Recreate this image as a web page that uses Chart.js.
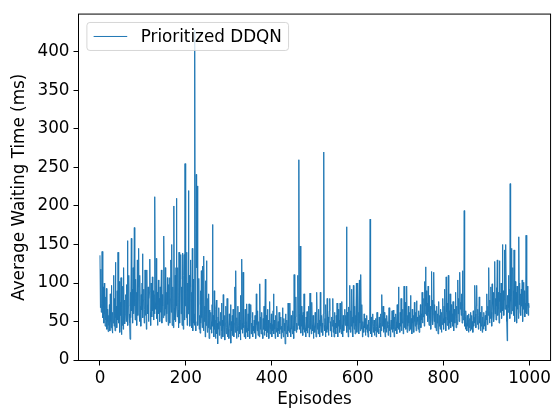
<!DOCTYPE html>
<html lang="en">
<head>
    <meta charset="UTF-8">
    <title>Average Waiting Time</title>
    <script src="https://cdn.jsdelivr.net/npm/chart.js"></script>
    <style>
        html, body { margin: 0; padding: 0; background: #fff; }
        canvas { display: block; }
    </style>
</head>
<body>
    <canvas id="waitChart" width="554" height="414"></canvas>

    <script>
        // average waiting time (ms) per episode, episodes 0..999
        const waitTimes = [
            136, 68, 118, 62, 74, 141, 88, 55, 95, 48, 100, 60, 44, 82, 52, 93, 40, 66, 50, 37,
            58, 45, 72, 38, 86, 50, 42, 97, 40, 35, 62, 48, 110, 44, 80, 38, 127, 55, 70, 42,
            90, 52, 140, 64, 48, 102, 36, 75, 58, 107, 33, 68, 45, 96, 40, 120, 52, 78, 47, 60,
            85, 50, 98, 62, 155, 45, 70, 110, 60, 48, 27, 88, 55, 158, 64, 92, 48, 120, 60, 75,
            172, 70, 52, 105, 60, 88, 45, 130, 58, 95, 145, 62, 50, 110, 70, 44, 85, 65, 100, 138,
            55, 78, 92, 48, 66, 117, 58, 84, 40, 117, 72, 60, 95, 50, 80, 88, 131, 62, 45, 100,
            70, 56, 108, 64, 90, 52, 85, 60, 212, 75, 66, 132, 54, 88, 45, 72, 104, 60, 80, 50,
            95, 62, 78, 117, 48, 85, 70, 55, 92, 161, 58, 74, 120, 66, 50, 88, 60, 107, 72, 45,
            98, 55, 107, 48, 80, 130, 62, 150, 45, 60, 95, 42, 200, 68, 52, 110, 50, 120, 210, 70,
            56, 120, 65, 42, 140, 55, 48, 105, 137, 60, 95, 45, 139, 70, 40, 110, 137, 52, 255, 70,
            120, 55, 140, 45, 100, 60, 220, 65, 110, 44, 95, 130, 50, 88, 42, 145, 38, 105, 48, 60,
            45, 428, 50, 38, 241, 120, 226, 60, 45, 72, 106, 40, 58, 35, 90, 48, 116, 55, 42, 122,
            60, 38, 135, 50, 70, 30, 103, 45, 129, 55, 36, 80, 42, 86, 28, 65, 48, 40, 62, 50,
            35, 72, 176, 44, 58, 30, 90, 40, 52, 28, 66, 78, 34, 48, 21, 56, 40, 68, 32, 50,
            45, 62, 28, 74, 38, 52, 30, 85, 44, 36, 58, 26, 48, 70, 34, 42, 80, 30, 55, 40,
            28, 60, 45, 35, 72, 22, 50, 38, 58, 32, 66, 40, 30, 48, 95, 36, 116, 44, 28, 55,
            38, 70, 30, 45, 62, 34, 52, 26, 84, 40, 131, 48, 35, 114, 42, 58, 30, 46, 66, 28,
            50, 36, 73, 42, 30, 60, 38, 73, 45, 28, 55, 72, 34, 48, 40, 62, 30, 44, 38, 52,
            35, 58, 42, 28, 86, 46, 38, 64, 32, 50, 44, 30, 99, 40, 56, 34, 48, 62, 36, 28,
            54, 40, 70, 32, 46, 105, 38, 58, 30, 44, 66, 36, 52, 28, 42, 76, 34, 48, 40, 60,
            30, 46, 38, 64, 86, 34, 52, 40, 28, 58, 44, 36, 70, 42, 30, 50, 38, 62, 34, 46,
            40, 56, 28, 44, 36, 68, 42, 30, 54, 38, 48, 21, 60, 40, 34, 52, 44, 30, 74, 38,
            48, 36, 74, 42, 30, 58, 40, 50, 34, 64, 44, 28, 111, 46, 38, 56, 82, 36, 48, 40,
            66, 110, 45, 260, 60, 40, 148, 52, 35, 70, 44, 58, 32, 62, 40, 86, 36, 50, 42, 30,
            56, 38, 63, 35, 48, 42, 70, 30, 52, 87, 40, 60, 34, 75, 46, 38, 58, 28, 50, 44,
            36, 62, 42, 30, 54, 88, 40, 48, 34, 66, 38, 52, 30, 88, 44, 36, 58, 42, 48, 32,
            60, 270, 45, 38, 54, 30, 72, 44, 36, 80, 40, 56, 32, 48, 64, 80, 38, 50, 42, 30,
            56, 44, 80, 36, 52, 30, 62, 40, 48, 34, 58, 42, 74, 38, 30, 66, 44, 52, 36, 74,
            40, 60, 34, 76, 46, 30, 58, 42, 38, 54, 66, 45, 58, 50, 173, 36, 62, 44, 30, 69,
            40, 52, 97, 36, 64, 44, 92, 38, 56, 30, 97, 48, 40, 70, 34, 58, 44, 100, 36, 52,
            100, 42, 62, 34, 104, 48, 38, 111, 56, 40, 72, 30, 50, 44, 36, 60, 42, 54, 32, 48,
            40, 58, 36, 46, 30, 52, 44, 38, 50, 183, 34, 56, 42, 30, 48, 60, 36, 44, 52, 32,
            46, 38, 54, 30, 44, 62, 36, 50, 40, 34, 56, 42, 48, 30, 60, 38, 85, 44, 52, 70,
            36, 48, 62, 40, 30, 54, 44, 36, 58, 42, 50, 32, 46, 68, 38, 56, 30, 44, 52, 40,
            64, 36, 48, 65, 40, 30, 56, 44, 38, 60, 50, 34, 72, 42, 58, 95, 40, 48, 36, 62,
            44, 80, 38, 56, 48, 66, 34, 52, 96, 42, 60, 75, 40, 50, 96, 36, 58, 44, 70, 48,
            38, 62, 46, 84, 40, 54, 34, 66, 48, 42, 58, 36, 75, 50, 44, 62, 38, 77, 46, 56,
            50, 40, 64, 36, 58, 46, 72, 42, 60, 52, 88, 48, 66, 56, 80, 44, 102, 60, 121, 70,
            90, 58, 74, 50, 96, 62, 45, 84, 54, 70, 40, 66, 115, 52, 78, 46, 60, 114, 50, 72,
            42, 64, 56, 38, 70, 48, 60, 34, 52, 76, 44, 58, 40, 66, 50, 36, 62, 46, 80, 54,
            40, 70, 48, 92, 56, 38, 108, 62, 45, 74, 52, 110, 40, 64, 48, 86, 58, 42, 72, 50,
            60, 44, 76, 52, 38, 66, 48, 58, 88, 42, 70, 54, 46, 104, 60, 80, 50, 92, 114, 66,
            75, 58, 86, 48, 116, 70, 52, 62, 194, 44, 56, 40, 64, 48, 38, 58, 44, 52, 36, 60,
            42, 54, 38, 62, 46, 58, 40, 50, 36, 64, 44, 56, 48, 97, 60, 42, 70, 97, 52, 46,
            66, 40, 58, 82, 48, 62, 38, 54, 44, 70, 36, 56, 48, 40, 62, 50, 44, 58, 38, 64,
            52, 86, 46, 70, 58, 120, 64, 48, 78, 54, 95, 62, 44, 99, 72, 56, 88, 50, 66, 128,
            60, 80, 52, 94, 70, 130, 58, 66, 88, 48, 129, 76, 87, 62, 100, 54, 70, 150, 64, 90,
            58, 78, 143, 66, 96, 150, 72, 50, 25, 84, 62, 110, 68, 92, 54, 229, 76, 60, 145, 82,
            64, 120, 90, 58, 143, 76, 50, 102, 70, 88, 48, 96, 66, 80, 54, 160, 72, 100, 62, 86,
            58, 92, 70, 104, 50, 80, 101, 66, 90, 56, 74, 62, 162, 80, 60, 96, 70, 58, 74, 68
        ];
        const episodes = waitTimes.map((_, i) => i);

        const xTicks = [0, 200, 400, 600, 800, 1000];
        const yTicks = [0, 50, 100, 150, 200, 250, 300, 350, 400];
        const seriesLabel = 'Prioritized DDQN';

        const FONT = 16.8;
        Chart.defaults.font.family = '"DejaVu Sans", sans-serif';
        Chart.defaults.font.size = FONT;
        Chart.defaults.color = '#000';

        // black box around the plot area
        const frame = {
            id: 'frame',
            afterDatasetsDraw(chart) {
                const { ctx, chartArea: a } = chart;
                ctx.save();
                ctx.strokeStyle = '#000';
                ctx.lineWidth = 1;
                ctx.strokeRect(a.left, a.top, a.right - a.left, a.bottom - a.top);
                ctx.restore();
            }
        };

        // legend box in the upper left corner, drawn over the line
        const cornerLegend = {
            id: 'cornerLegend',
            afterDatasetsDraw(chart) {
                const { ctx, chartArea: a } = chart;
                const ds = chart.data.datasets[0];
                const pad = 0.4 * FONT, handle = 2 * FONT, gap = 0.8 * FONT;
                const x = a.left + 0.5 * FONT, y = a.top + 0.5 * FONT;
                ctx.save();
                ctx.font = FONT + 'px "DejaVu Sans"';
                const w = pad + handle + gap + ctx.measureText(ds.label).width + pad;
                const h = 28;
                ctx.beginPath();
                ctx.roundRect(x, y, w, h, 3);
                ctx.fillStyle = 'rgba(255,255,255,0.8)';
                ctx.fill();
                ctx.strokeStyle = 'rgba(204,204,204,0.8)';
                ctx.lineWidth = 1;
                ctx.stroke();
                const cy = y + h / 2;
                ctx.beginPath();
                ctx.moveTo(x + pad, cy);
                ctx.lineTo(x + pad + handle, cy);
                ctx.strokeStyle = ds.borderColor;
                ctx.lineWidth = ds.borderWidth;
                ctx.stroke();
                ctx.fillStyle = '#000';
                ctx.textBaseline = 'middle';
                ctx.fillText(ds.label, x + pad + handle + gap, cy + 1);
                ctx.restore();
            }
        };

        const ctx = document.getElementById('waitChart').getContext('2d');
        const waitChart = new Chart(ctx, {
            type: 'line',
            data: {
                datasets: [{
                    label: seriesLabel,
                    data: episodes.map((ep, i) => ({ x: ep, y: waitTimes[i] })),
                    borderColor: '#1f77b4',
                    borderWidth: 1,
                    pointRadius: 0,
                    tension: 0,
                    fill: false
                }]
            },
            options: {
                responsive: false,
                animation: false,
                layout: { padding: { top: 8.5, right: 3, left: 0, bottom: 0 } },
                plugins: {
                    legend: { display: false },
                    tooltip: { enabled: false }
                },
                scales: {
                    x: {
                        type: 'linear',
                        min: -50,
                        max: 1049,
                        afterBuildTicks: s => { s.ticks = xTicks.map(v => ({ value: v })); },
                        afterFit: s => { s.height = 53.5; },
                        grid: { drawOnChartArea: false, color: '#000', tickLength: 5 },
                        border: { display: false },
                        ticks: { padding: 3, maxRotation: 0, callback: v => String(v) },
                        title: { display: true, text: 'Episodes', padding: { top: 0, bottom: 4 } }
                    },
                    y: {
                        min: -0.5,
                        max: 449,
                        afterBuildTicks: s => { s.ticks = yTicks.map(v => ({ value: v })); },
                        afterFit: s => { s.width = 78.5; },
                        grid: { drawOnChartArea: false, color: '#000', tickLength: 5 },
                        border: { display: false },
                        ticks: { padding: 4, callback: v => String(v) },
                        title: { display: true, text: 'Average Waiting Time (ms)', padding: { top: 9.5, bottom: 0 } }
                    }
                }
            },
            plugins: [frame, cornerLegend]
        });
    </script>
</body>
</html>
